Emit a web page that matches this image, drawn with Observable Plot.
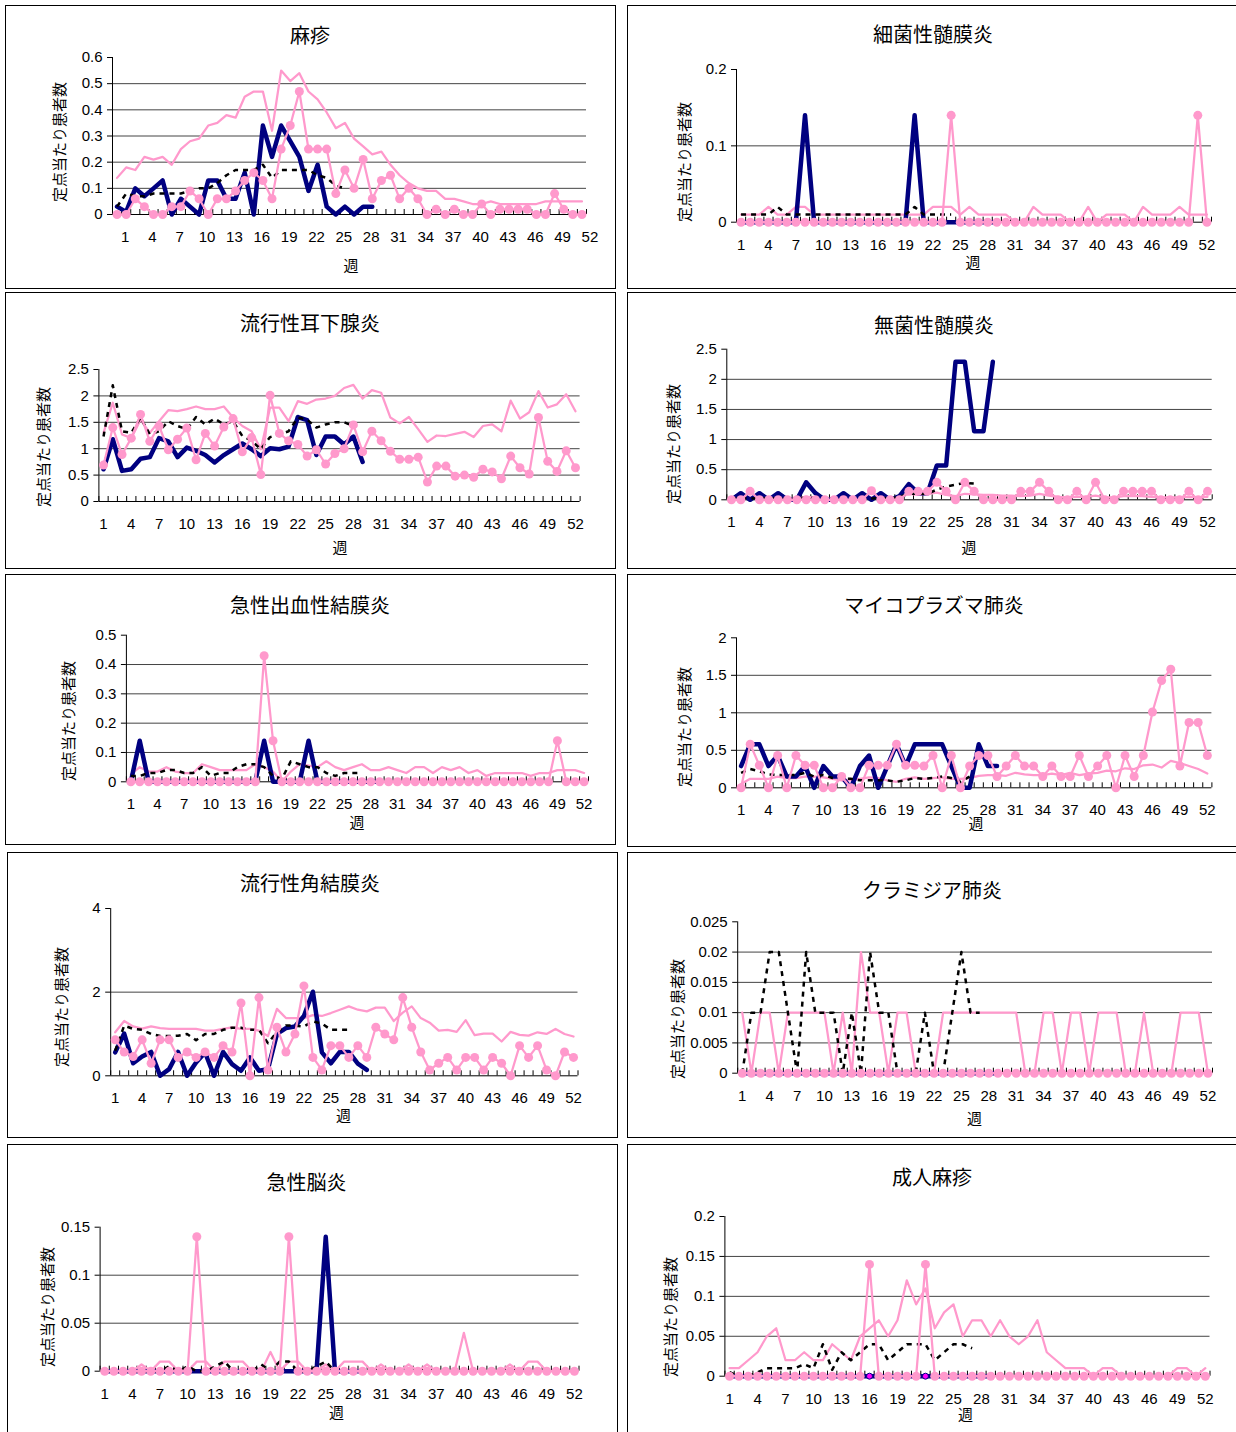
<!DOCTYPE html>
<html><head><meta charset="utf-8">
<script src="https://cdn.jsdelivr.net/npm/d3@7"></script>
<script src="https://cdn.jsdelivr.net/npm/@observablehq/plot@0.6"></script>
<style>
body{margin:0;background:#fff;}
#page{position:relative;width:1236px;height:1432px;overflow:hidden;background:#fff;}
.box{position:absolute;border:1px solid #000;box-sizing:border-box;pointer-events:none;}
.t{position:absolute;transform:translate(-50%,-50%);white-space:nowrap;font-family:"Noto Sans CJK JP",sans-serif;color:#000;line-height:1;}
.title{font-size:20px;}
.yl{font-size:15px;transform:translate(-50%,-50%) rotate(-90deg);}
.xl{font-size:15px;}
</style></head><body><div id="page"></div>
<script>
// ---- shared axis values ----
const labelWeeks = [1,4,7,10,13,16,19,22,25,28,31,34,37,40,43,46,49,52];
const edgeWeeks = [0.5,1.5,2.5,3.5,4.5,5.5,6.5,7.5,8.5,9.5,10.5,11.5,12.5,13.5,14.5,15.5,16.5,17.5,18.5,19.5,20.5,21.5,22.5,23.5,24.5,25.5,26.5,27.5,28.5,29.5,30.5,31.5,32.5,33.5,34.5,35.5,36.5,37.5,38.5,39.5,40.5,41.5,42.5,43.5,44.5,45.5,46.5,47.5,48.5,49.5,50.5,51.5,52.5];

// ---- 麻疹 ----
const measlesTicks = [0,0.1,0.2,0.3,0.4,0.5,0.6];
const measlesA = [0.03,0.01,0.10,0.07,0.10,0.13,0,0.06,0.03,0,0.13,0.13,0.06,0.06,0.16,0,0.34,0.22,0.34,0.28,0.22,0.09,0.19,0.03,0,0.03,0,0.03,0.03];
const measlesB = [0.03,0.08,0.07,0.07,0.08,0.08,0.08,0.08,0.09,0.10,0.10,0.12,0.15,0.17,0.17,0.17,0.19,0.14,0.17,0.17,0.17,0.17,0.15,0.14,0.11,0.10];
const measlesC = [0.14,0.18,0.17,0.22,0.21,0.22,0.19,0.25,0.28,0.29,0.34,0.35,0.38,0.37,0.45,0.47,0.47,0.32,0.55,0.51,0.54,0.47,0.44,0.39,0.33,0.35,0.29,0.26,0.23,0.24,0.19,0.15,0.12,0.10,0.09,0.09,0.06,0.06,0.05,0.04,0.04,0.05,0.04,0.04,0.04,0.04,0.04,0.05,0.05,0.05,0.05,0.05];
const measlesD = [0,0,0.06,0.03,0,0,0.03,0.03,0.09,0.06,0,0.06,0.06,0.09,0.13,0.16,0.13,0.06,0.25,0.34,0.47,0.25,0.25,0.25,0.08,0.17,0.10,0.21,0.06,0.13,0.15,0.06,0.10,0.06,0,0.02,0,0.02,0,0,0.04,0,0.02,0.02,0.02,0.02,0,0,0.08,0.02,0,0];

// ---- 細菌性髄膜炎 ----
const bactTicks = [0,0.1,0.2];
const bactA = [0,0,0,0,0,0,0,0.14,0,0,0,0,0,0,0,0,0,0,0,0.14,0,0,0,0,0,0,0,0,0];
const bactB = [0.01,0.01,0.01,0.01,0.02,0.01,0.01,0.01,0.01,0.01,0.01,0.01,0.01,0.01,0.01,0.01,0.01,0.01,0.01,0.02,0.01,0.01,0.01,0.01];
const bactC = [0.01,0.01,0.01,0.02,0.01,0.01,0.02,0.02,0.01,0.01,0.01,0.01,0.01,0.01,0.01,0.01,0.01,0.01,0.01,0.01,0.01,0.02,0.02,0.02,0.01,0.02,0.01,0.01,0.01,0.01,0,0,0.02,0.01,0.01,0.01,0,0,0.02,0,0.01,0.01,0.01,0,0.02,0.01,0.01,0.01,0.02,0.01,0.01,0.01];
const bactD = [0,0,0,0,0,0,0,0,0,0,0,0,0,0,0,0,0,0,0,0,0,0,0,0.14,0,0,0,0,0,0,0,0,0,0,0,0,0,0,0,0,0,0,0,0,0,0,0,0,0,0,0.14,0];

// ---- 流行性耳下腺炎 ----
const mumpsTicks = [0,0.5,1,1.5,2,2.5];
const mumpsA = [0.61,1.18,0.58,0.61,0.81,0.84,1.2,1.14,0.84,1.02,0.96,0.88,0.74,0.88,0.99,1.1,0.99,0.86,1.01,0.99,1.04,1.6,1.54,0.88,1.23,1.23,1.08,1.23,0.75];
const mumpsB = [1.23,2.2,1.33,1.3,1.59,1.27,1.33,1.52,1.43,1.37,1.6,1.46,1.57,1.46,1.52,1.24,1.15,0.99,1.22,1.27,1.33,1.59,1.55,1.4,1.46,1.5,1.5,1.43];
const mumpsC = [1.3,1.87,1.27,1.2,1.55,1.3,1.52,1.73,1.71,1.75,1.8,1.75,1.75,1.8,1.59,1.43,1.33,0.99,1.78,1.78,1.52,1.9,1.85,1.93,1.95,2.0,2.15,2.21,1.95,2.11,2.06,1.59,1.48,1.6,1.37,1.13,1.25,1.24,1.28,1.32,1.22,1.43,1.46,1.33,1.91,1.57,1.69,2.09,1.78,1.84,2.03,1.71];
const mumpsD = [0.69,1.40,0.89,1.20,1.65,1.14,1.43,0.98,1.18,1.39,0.79,1.29,1.05,1.41,1.57,0.94,1.21,0.51,2.01,1.29,1.15,1.08,0.86,0.98,0.71,0.91,1.00,1.45,0.94,1.33,1.15,0.95,0.80,0.80,0.84,0.37,0.67,0.67,0.48,0.50,0.46,0.61,0.56,0.43,0.86,0.64,0.52,1.59,0.76,0.57,0.96,0.64];

// ---- 無菌性髄膜炎 ----
const asepticTicks = [0,0.5,1,1.5,2,2.5];
const asepticA = [0,0.11,0,0.11,0,0.11,0,0,0.29,0.11,0,0,0.11,0,0.11,0,0.11,0,0.06,0.26,0.11,0.11,0.57,0.57,2.29,2.29,1.14,1.14,2.29];
const asepticB = [0.02,0.03,0.02,0.03,0.02,0.02,0.01,0.02,0.04,0.03,0.02,0.01,0.02,0.03,0.02,0.02,0.03,0.02,0.05,0.1,0.1,0.1,0.17,0.22,0.25,0.28,0.27];
const asepticC = [0.02,0.03,0.04,0.03,0.02,0.03,0.03,0.02,0.05,0.04,0.02,0.02,0.03,0.03,0.03,0.04,0.03,0.02,0.04,0.1,0.08,0.1,0.12,0.08,0.06,0.1,0.09,0.08,0.08,0.07,0.07,0.06,0.07,0.1,0.07,0.05,0.04,0.05,0.05,0.07,0.04,0.04,0.06,0.06,0.06,0.05,0.04,0.04,0.04,0.05,0.04,0.05];
const asepticD = [0,0,0.14,0,0,0,0,0,0,0,0,0,0,0,0,0.15,0,0,0,0.14,0.14,0.14,0.29,0.14,0,0.29,0.14,0,0,0,0,0.14,0.14,0.29,0.14,0,0,0.14,0,0.29,0,0,0.14,0.14,0.14,0.14,0,0,0,0.14,0,0.14];

// ---- 急性出血性結膜炎 ----
const ahcTicks = [0,0.1,0.2,0.3,0.4,0.5];
const ahcA = [0,0.14,0,0,0,0,0,0,0,0,0,0,0,0,0,0.14,0,0,0,0,0.14,0,0,0,0,0,0,0,0];
const ahcB = [0.02,0.02,0.03,0.03,0.04,0.04,0.03,0.03,0.05,0.02,0.03,0.03,0.05,0.06,0.06,0.05,0.02,0.01,0.07,0.06,0.05,0.05,0.03,0.02,0.03,0.03,0.03];
const ahcC = [0.025,0.05,0.035,0.035,0.05,0.035,0.03,0.03,0.06,0.05,0.04,0.04,0.04,0.04,0.06,0.05,0.035,0,0.035,0.06,0.055,0.05,0.07,0.05,0.04,0.05,0.06,0.04,0.04,0.05,0.04,0.03,0.05,0.05,0.03,0.05,0.04,0.05,0.03,0.04,0.02,0.03,0.03,0.03,0.03,0.02,0.03,0.03,0.04,0.04,0.04,0.03];
const ahcD = [0,0,0,0,0,0,0,0,0,0,0,0,0,0,0,0.43,0.14,0,0,0,0,0,0,0,0,0,0,0,0,0,0,0,0,0,0,0,0,0,0,0,0,0,0,0,0,0,0,0,0.14,0,0,0];

// ---- マイコプラズマ肺炎 ----
const mycoTicks = [0,0.5,1,1.5,2];
const mycoA = [0.29,0.58,0.58,0.29,0.43,0.15,0.15,0.29,0,0.29,0.15,0.15,0,0.29,0.43,0,0.29,0.58,0.29,0.58,0.58,0.58,0.58,0.29,0,0,0.58,0.29,0.29];
const mycoB = [0.2,0.25,0.22,0.18,0.17,0.17,0.17,0.2,0.15,0.17,0.13,0.12,0.12,0.1,0.1,0.1,0.1,0.08,0.1,0.13,0.12,0.13,0.15,0.13,0.08,0.15];
const mycoC = [0.05,0.12,0.12,0.12,0.15,0.13,0.13,0.15,0.15,0.14,0.12,0.1,0.1,0.12,0.14,0.13,0.1,0.08,0.12,0.14,0.12,0.13,0.14,0.12,0.12,0.13,0.16,0.17,0.17,0.16,0.2,0.18,0.17,0.17,0.19,0.17,0.2,0.17,0.19,0.2,0.23,0.22,0.26,0.25,0.3,0.31,0.27,0.36,0.33,0.29,0.25,0.19];
const mycoD = [0,0.58,0.3,0,0.43,0,0.43,0.3,0.3,0,0,0.15,0,0,0.3,0.3,0.3,0.58,0.3,0.3,0.29,0.43,0,0.43,0,0.29,0.43,0.43,0.15,0.29,0.43,0.29,0.29,0.15,0.29,0.15,0.15,0.43,0.15,0.29,0.43,0,0.43,0.15,0.43,1.01,1.43,1.58,0.29,0.87,0.87,0.43];

// ---- 流行性角結膜炎 ----
const ekcTicks = [0,2,4];
const ekcA = [0.56,1.01,0.3,0.46,0.57,0,0.16,0.57,0,0.32,0.56,0,0.57,0.28,0.12,0.44,0.12,0.16,1.0,1.14,1.18,1.43,2.01,0.56,0.3,0.57,0.57,0.29,0.14];
const ekcB = [0.6,1.2,1.12,1.1,1.0,0.95,0.95,0.96,1.0,0.85,1.0,1.0,1.1,1.15,1.15,1.1,1.1,0.78,1.05,1.2,1.2,1.18,1.3,1.25,1.1,1.1,1.1];
const ekcC = [1.04,1.31,1.18,1.13,1.18,1.14,1.12,1.12,1.12,1.12,1.08,1.08,1.12,1.16,1.12,1.12,1.08,0.95,1.6,1.38,1.38,1.38,1.45,1.43,1.5,1.58,1.66,1.58,1.54,1.63,1.63,1.31,1.51,1.66,1.38,1.27,1.08,1.1,1.05,1.33,0.97,1.01,1.01,0.82,1.05,0.98,0.96,1.04,1.0,1.12,1.0,0.94];
const ekcD = [0.86,0.57,0.46,0.86,0.3,0.86,0.86,0.44,0.57,0.44,0.57,0.44,0.72,0.57,1.74,0,1.87,0.14,1.16,0.57,1.0,2.15,0.44,0.14,0.72,0.72,0.44,0.72,0.44,1.16,1.0,0.86,1.87,1.16,0.57,0.14,0.3,0.44,0.14,0.44,0.44,0.14,0.44,0.3,0,0.72,0.44,0.72,0.14,0,0.57,0.44];

// ---- クラミジア肺炎 ----
const chlamTicks = [0,0.005,0.01,0.015,0.02,0.025];
const chlamA = [0,0,0,0,0,0,0,0,0,0,0,0,0,0,0,0,0,0,0,0,0,0,0,0,0,0,0,0,0];
const chlamB = [0,0.01,0.01,0.02,0.02,0.01,0,0.02,0.01,0.01,0.01,0,0.01,0,0.02,0.01,0.01,0,0,0,0.01,0,0,0.01,0.02,0.01,0.01];
const chlamC = [0.01,0,0.01,0.01,0,0.01,0.01,0.01,0.01,0.01,0,0.01,0,0.02,0.01,0.01,0,0.01,0.01,0,0,0,0.01,0.01,0.01,0.01,0.01,0.01,0.01,0.01,0.01,0,0,0.01,0.01,0,0.01,0.01,0,0.01,0.01,0.01,0,0,0.01,0,0,0,0.01,0.01,0.01,0];
const chlamD = [0,0,0,0,0,0,0,0,0,0,0,0,0,0,0,0,0,0,0,0,0,0,0,0,0,0,0,0,0,0,0,0,0,0,0,0,0,0,0,0,0,0,0,0,0,0,0,0,0,0,0,0];

// ---- 急性脳炎 ----
const enceTicks = [0,0.05,0.1,0.15];
const enceA = [0,0,0,0,0,0,0,0,0,0,0,0,0,0,0,0,0,0,0,0,0,0,0,0,0.14,0,0,0,0];
const enceB = [0,0,0,0,0,0,0,0.005,0,0.005,0,0,0.005,0.01,0,0,0,0.007,0,0.01,0.01,0,0,0.005,0.01,0,0];
const enceC = [0,0,0,0,0.007,0,0.01,0.01,0,0,0.01,0.01,0,0.01,0.01,0.01,0,0,0.02,0,0.01,0.01,0,0,0.007,0,0.01,0.01,0.01,0,0.007,0,0,0.007,0,0.007,0,0,0,0.04,0,0,0,0,0.007,0,0.01,0.01,0,0,0,0];
const enceD = [0,0,0,0,0,0,0,0,0,0,0.14,0,0,0,0,0,0,0,0,0,0.14,0,0,0,0,0,0,0,0,0,0,0,0,0,0,0,0,0,0,0,0,0,0,0,0,0,0,0,0,0,0,0];

// ---- 成人麻疹 ----
const adultTicks = [0,0.05,0.1,0.15,0.2];
const adultA = [0,0,0,0,0,0,0,0,0,0,0,0,0,0,0,0,0,0,0,0,0,0,0,0,0,0,0,0,0];
const adultB = [0.005,0,0,0.005,0.01,0.01,0.01,0.01,0.015,0.01,0.04,0.008,0.03,0.02,0.03,0.04,0.04,0.02,0.03,0.04,0.04,0.04,0.02,0.03,0.04,0.04,0.035];
const adultC = [0.01,0.01,0.02,0.03,0.05,0.06,0.02,0.02,0.03,0.02,0.02,0.04,0.03,0.02,0.05,0.06,0.07,0.05,0.07,0.12,0.09,0.11,0.06,0.08,0.09,0.05,0.07,0.07,0.05,0.07,0.05,0.04,0.05,0.07,0.03,0.02,0.01,0.01,0.01,0,0.01,0.01,0,0,0,0,0,0,0.01,0.01,0,0.01];
const adultD = [0,0,0,0,0,0,0,0,0,0,0,0,0,0,0,0.14,0,0,0,0,0,0.14,0,0,0,0,0,0,0,0,0,0,0,0,0,0,0,0,0,0,0,0,0,0,0,0,0,0,0,0,0,0];

// ---- layout (positions only) ----
const NAVY = "#000080", PINK = "#ff99cc";
const panels = [
  {title:"麻疹", A:measlesA, B:measlesB, C:measlesC, D:measlesD, ticks:measlesTicks,
   box:[5,5,611,284], plot:[112,586,57,214], labelDx:8, tp:[310,35], yp:[58,142], xp:[351,264]},
  {title:"細菌性髄膜炎", A:bactA, B:bactB, C:bactC, D:bactD, ticks:bactTicks,
   box:[627,5,620,284], plot:[736,1211,69,221.7], labelDx:0, tp:[933,34], yp:[683,162], xp:[973,261]},
  {title:"流行性耳下腺炎", A:mumpsA, B:mumpsB, C:mumpsC, D:mumpsD, ticks:mumpsTicks,
   box:[5,292,611,277], plot:[98.4,579.6,369,501], labelDx:0, tp:[310,323], yp:[42,447], xp:[340,546]},
  {title:"無菌性髄膜炎", A:asepticA, B:asepticB, C:asepticC, D:asepticD, ticks:asepticTicks,
   box:[627,292,620,277], plot:[726.3,1211.7,348.7,499.3], labelDx:0, tp:[934,325], yp:[672,444], xp:[969,546]},
  {title:"急性出血性結膜炎", A:ahcA, B:ahcB, C:ahcC, D:ahcD, ticks:ahcTicks,
   box:[5,574,611,271], plot:[125.9,588,634.7,781.3], labelDx:0, tp:[310,605], yp:[67,721], xp:[357,821]},
  {title:"マイコプラズマ肺炎", A:mycoA, B:mycoB, C:mycoC, D:mycoD, ticks:mycoTicks,
   box:[627,574,620,273], plot:[736,1211.4,637.3,787.3], labelDx:0, tp:[934,605], yp:[683,727], xp:[976,822]},
  {title:"流行性角結膜炎", A:ekcA, B:ekcB, C:ekcC, D:ekcD, ticks:ekcTicks,
   box:[7,852,611,286], plot:[110.2,577.5,908,1075.3], labelDx:0, tp:[310,883], yp:[59.5,1007], xp:[343.5,1114]},
  {title:"クラミジア肺炎", A:chlamA, B:chlamB, C:chlamC, D:chlamD, ticks:chlamTicks,
   box:[627,852,620,286], plot:[737.2,1212,921.3,1072.7], labelDx:0, tp:[932,890], yp:[675.6,1019], xp:[974.5,1117]},
  {title:"急性脳炎", A:enceA, B:enceB, C:enceC, D:enceD, ticks:enceTicks,
   box:[7,1144,611,300], plot:[99.6,578.5,1226.7,1370.7], labelDx:0, tp:[306.5,1182], yp:[46,1307], xp:[336.5,1411]},
  {title:"成人麻疹", A:adultA, B:adultB, C:adultC, D:adultD, ticks:adultTicks, markersA:true,
   box:[627,1144,620,300], plot:[724.4,1209.5,1216,1375.7], labelDx:0, tp:[932,1177], yp:[669,1317], xp:[965.5,1413]}
];

const page = document.getElementById("page");
const rows = arr => arr.map((v, i) => ({week: i + 1, value: v}));

function addText(cls, txt, x, y) {
  const d = document.createElement("div");
  d.className = "t " + cls;
  d.textContent = txt;
  d.style.left = x + "px";
  d.style.top = y + "px";
  page.appendChild(d);
}

for (const p of panels) {
  const [L, T, W, H] = p.box;
  const [x0, x1, y0, y1] = p.plot;
  const ymax = p.ticks[p.ticks.length - 1];
  const marks = [
    Plot.ruleY(p.ticks.slice(1, -1), {stroke: "#444", strokeWidth: 1}),
    Plot.ruleY([0], {stroke: "#000", strokeWidth: 1}),
    Plot.ruleX([0.5], {y1: 0, y2: ymax, stroke: "#000", strokeWidth: 1}),
    Plot.axisY(p.ticks, {tickSize: 5, tickPadding: 5, fontSize: 15, tickFormat: d => String(d), label: null}),
    Plot.axisX(edgeWeeks, {tickSize: 5, dy: -5, tickFormat: () => "", label: null}),
    Plot.axisX(labelWeeks, {tickSize: 0, tickPadding: 17, fontSize: 15, dx: p.labelDx, label: null}),
    Plot.line(rows(p.C), {x: "week", y: "value", stroke: PINK, strokeWidth: 2.25}),
    Plot.line(rows(p.A), {x: "week", y: "value", stroke: NAVY, strokeWidth: 4.5})
  ];
  if (p.markersA) marks.push(Plot.dot(rows(p.A), {x: "week", y: "value", r: 3, fill: "#ff00ff", stroke: NAVY, strokeWidth: 1}));
  marks.push(
    Plot.line(rows(p.B), {x: "week", y: "value", stroke: "#000", strokeWidth: 2.5, strokeDasharray: "5,5", strokeLinecap: "butt"}),
    Plot.line(rows(p.D), {x: "week", y: "value", stroke: PINK, strokeWidth: 2.25}),
    Plot.dot(rows(p.D), {x: "week", y: "value", r: 4.5, fill: PINK, stroke: "none"})
  );
  const svg = Plot.plot({
    width: W, height: H,
    marginLeft: x0 - L, marginRight: L + W - x1,
    marginTop: y0 - T, marginBottom: T + H - y1,
    x: {domain: [0.5, 52.5]},
    y: {domain: [0, ymax]},
    style: {fontFamily: '"Liberation Sans", Arial, sans-serif', fontSize: "15px", color: "#000", background: "transparent", overflow: "visible"},
    marks
  });
  svg.style.position = "absolute";
  svg.style.left = L + "px";
  svg.style.top = T + "px";
  svg.style.maxWidth = "none";
  page.appendChild(svg);

  const box = document.createElement("div");
  box.className = "box";
  box.style.left = L + "px"; box.style.top = T + "px";
  box.style.width = W + "px"; box.style.height = H + "px";
  page.appendChild(box);

  addText("title", p.title, p.tp[0], p.tp[1]);
  addText("yl", "定点当たり患者数", p.yp[0], p.yp[1]);
  addText("xl", "週", p.xp[0], p.xp[1]);
}
</script></body></html>
